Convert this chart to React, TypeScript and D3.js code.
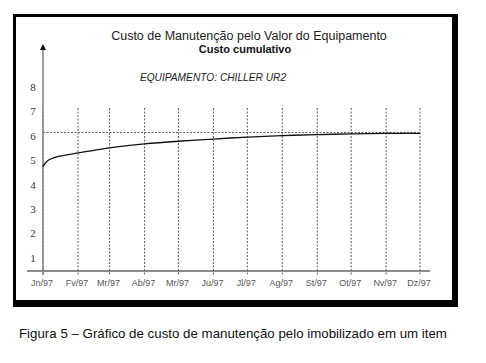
import React, { useEffect, useRef } from 'react';
import * as d3 from 'd3';

// month ticks on the x axis
const monthLabels = ['Jn/97', 'Fv/97', 'Mr/97', 'Ab/97', 'Mr/97', 'Ju/97', 'Jl/97', 'Ag/97', 'St/97', 'Ot/97', 'Nv/97', 'Dz/97'];
const monthDates = ['1997-01-01', '1997-02-01', '1997-03-01', '1997-04-01', '1997-05-01', '1997-06-01', '1997-07-01', '1997-08-01', '1997-09-01', '1997-10-01', '1997-11-01', '1997-12-01'];

// cumulative cost curve
const costDates = ['1997-01-01', '1997-01-05', '1997-01-14', '1997-02-01', '1997-03-01', '1997-04-01', '1997-05-01', '1997-06-01', '1997-07-01', '1997-08-01', '1997-09-01', '1997-10-01', '1997-11-01', '1997-12-01'];
const costValues = [4.74, 4.98, 5.15, 5.30, 5.51, 5.67, 5.78, 5.87, 5.95, 6.01, 6.05, 6.08, 6.10, 6.10];

// equipment value reference line
const refValue = 6.14;

const yTicks = [1, 2, 3, 4, 5, 6, 7, 8];

const W = 486;
const H = 363;

const App: React.FC = () => {
  const svgRef = useRef<SVGSVGElement>(null);

  useEffect(() => {
    if (!svgRef.current) return;
    const svg = d3.select(svgRef.current);
    svg.selectAll('*').remove();

    const parse = d3.timeParse('%Y-%m-%d');
    const x = d3.scaleTime()
      .domain([parse(monthDates[0])!, parse(monthDates[monthDates.length - 1])!])
      .range([43, 420]);
    const y = d3.scaleLinear().domain([0.47, 9.76]).range([271, 44]);

    // framed box with heavy shadow on right/bottom
    svg.append('rect').attr('x', 13).attr('y', 14).attr('width', 445).attr('height', 293).attr('fill', '#000');
    svg.append('rect').attr('x', 16).attr('y', 17).attr('width', 436).attr('height', 283).attr('fill', '#fff');

    // titles
    svg.append('text')
      .attr('x', 249).attr('y', 40)
      .attr('text-anchor', 'middle')
      .attr('font-family', 'Liberation Sans, Arial, sans-serif')
      .attr('font-size', '12.5px')
      .attr('fill', '#222')
      .text('Custo de Manutenção pelo Valor do Equipamento');
    svg.append('text')
      .attr('x', 245).attr('y', 53)
      .attr('text-anchor', 'middle')
      .attr('font-family', 'Liberation Sans, Arial, sans-serif')
      .attr('font-size', '11px')
      .attr('font-weight', 'bold')
      .attr('fill', '#111')
      .text('Custo cumulativo');
    svg.append('text')
      .attr('x', 213).attr('y', 81)
      .attr('text-anchor', 'middle')
      .attr('font-family', 'Liberation Sans, Arial, sans-serif')
      .attr('font-size', '10.2px')
      .attr('font-style', 'italic')
      .attr('fill', '#222')
      .text('EQUIPAMENTO: CHILLER UR2');

    // vertical dotted month lines
    monthDates.forEach(d => {
      const xx = x(parse(d)!);
      svg.append('line')
        .attr('x1', xx).attr('x2', xx)
        .attr('y1', 108).attr('y2', 275)
        .attr('stroke', '#333')
        .attr('stroke-width', 0.8)
        .attr('stroke-dasharray', '2,1.5');
    });

    // horizontal dotted reference line
    svg.append('line')
      .attr('x1', x(parse(monthDates[0])!)).attr('x2', x(parse(monthDates[11])!) + 1)
      .attr('y1', y(refValue)).attr('y2', y(refValue))
      .attr('stroke', '#333')
      .attr('stroke-width', 0.8)
      .attr('stroke-dasharray', '2,1.5');

    // axes
    svg.append('line')
      .attr('x1', 27).attr('x2', 430)
      .attr('y1', y(0.47)).attr('y2', y(0.47))
      .attr('stroke', '#666').attr('stroke-width', 1.3);
    svg.append('line')
      .attr('x1', 43).attr('x2', 43)
      .attr('y1', 275).attr('y2', 49)
      .attr('stroke', '#888').attr('stroke-width', 1.6);
    svg.append('path')
      .attr('d', 'M43,44L46,50L40,50Z')
      .attr('fill', '#111');

    // y tick labels
    yTicks.forEach(t => {
      svg.append('text')
        .attr('x', 33).attr('y', y(t))
        .attr('dy', '0.35em')
        .attr('text-anchor', 'middle')
        .attr('font-family', 'Liberation Serif, Times New Roman, serif')
        .attr('font-size', '11px')
        .attr('fill', '#333')
        .text(t);
    });

    // x tick labels
    monthDates.forEach((d, i) => {
      svg.append('text')
        .attr('x', x(parse(d)!) - 1).attr('y', 286)
        .attr('text-anchor', 'middle')
        .attr('font-family', 'Liberation Sans, Arial, sans-serif')
        .attr('font-size', '9px')
        .attr('fill', '#555')
        .text(monthLabels[i]);
    });

    // cost curve
    const pts: [Date, number][] = costDates.map((d, i) => [parse(d)!, costValues[i]]);
    const line = d3.line<[Date, number]>()
      .x(d => x(d[0]))
      .y(d => y(d[1]))
      .curve(d3.curveCatmullRom.alpha(0.5));
    svg.append('path')
      .attr('d', line(pts))
      .attr('fill', 'none')
      .attr('stroke', '#111')
      .attr('stroke-width', 1.3);

    // caption below the figure
    svg.append('text')
      .attr('x', 19).attr('y', 338)
      .attr('font-family', 'Liberation Sans, Arial, sans-serif')
      .attr('font-size', '13.3px')
      .attr('fill', '#111')
      .text('Figura 5 – Gráfico de custo de manutenção pelo imobilizado em um item');
  }, []);

  return (
    <div style={{ position: 'absolute', left: 0, top: 0, width: W, height: H, background: '#fff' }}>
      <svg ref={svgRef} width={W} height={H} />
    </div>
  );
};

export default App;
